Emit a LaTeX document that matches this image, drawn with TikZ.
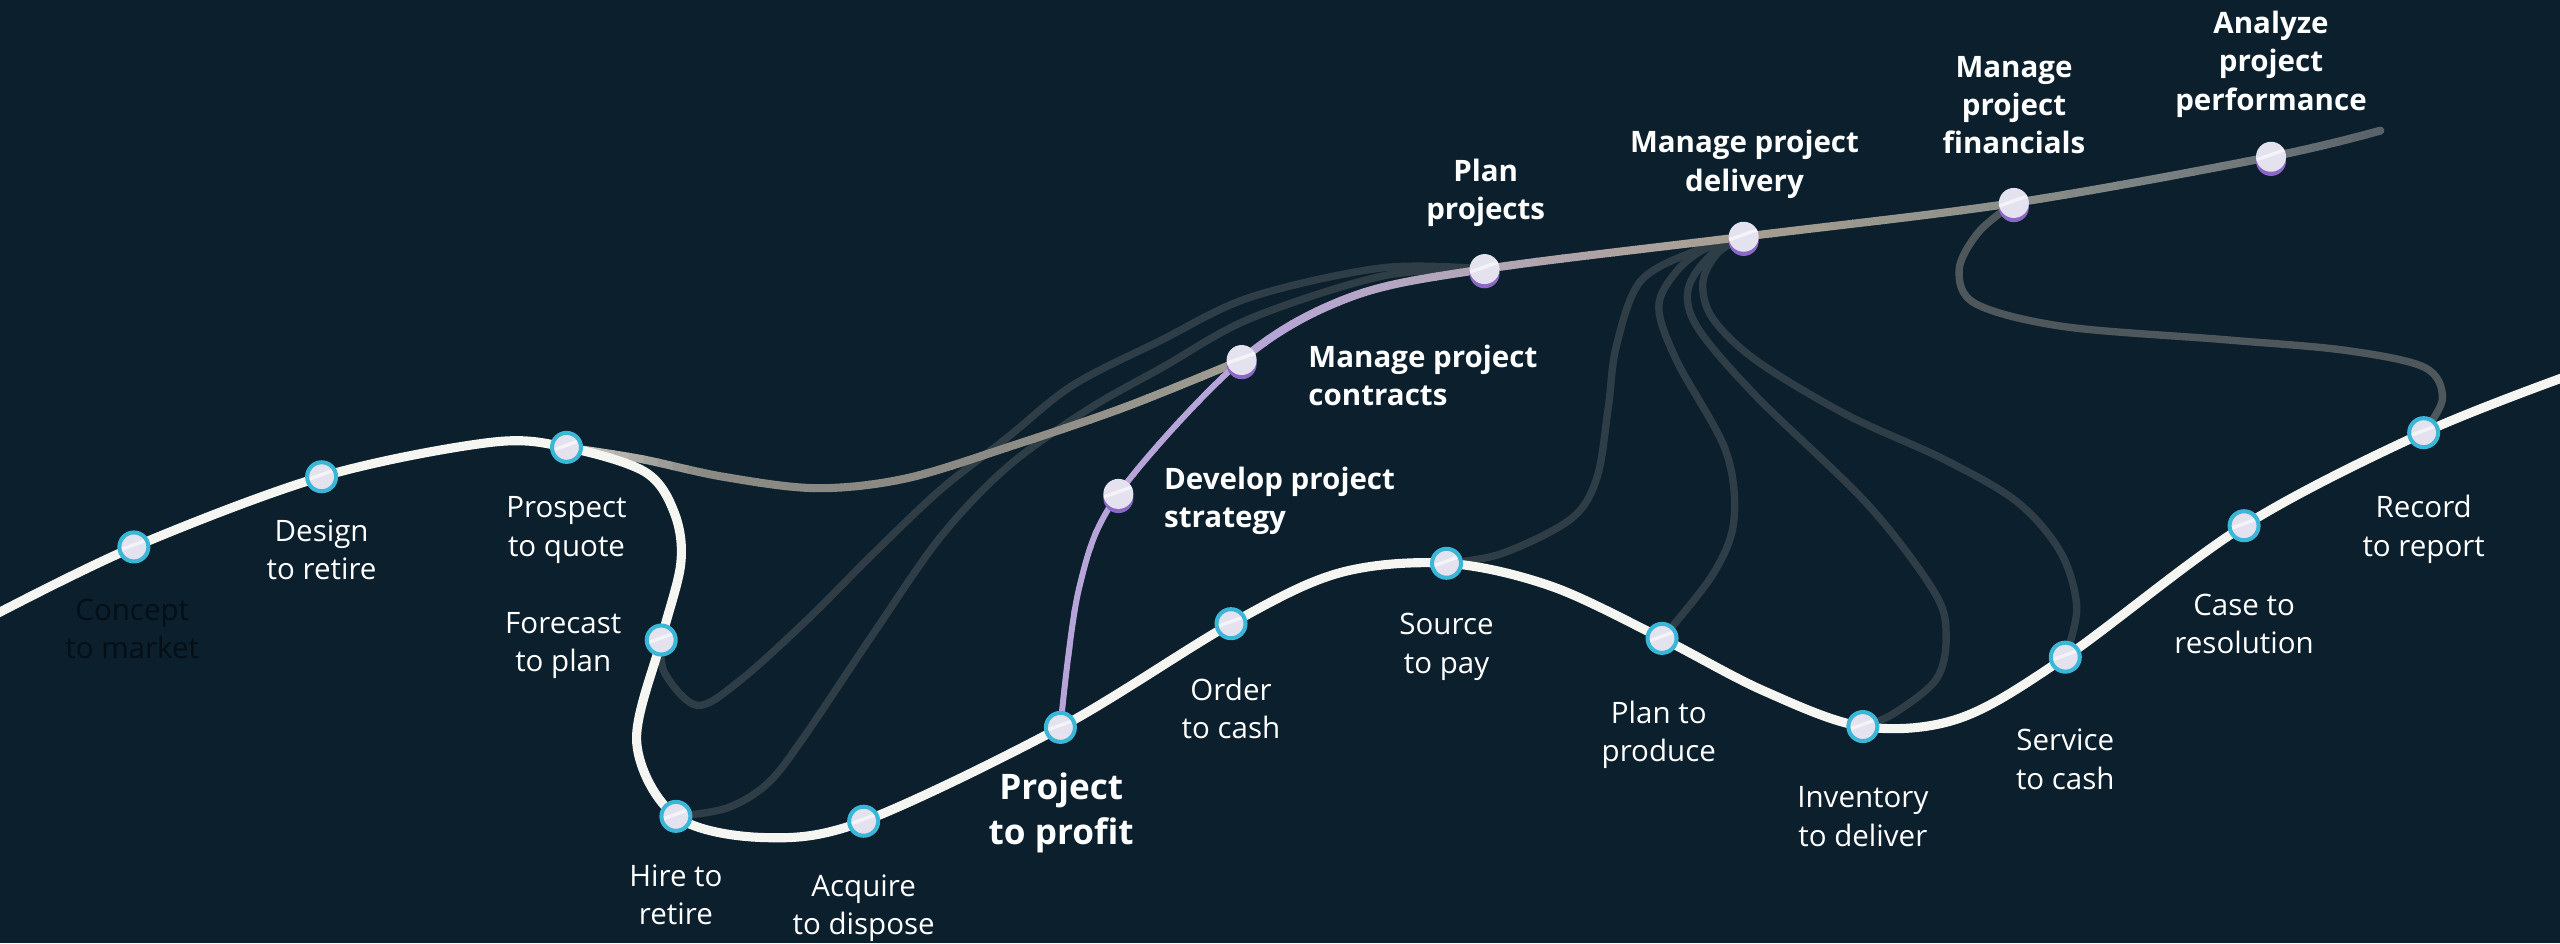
\documentclass[tikz,border=0pt]{standalone}
\usepackage{fontspec}
\setmainfont{Open Sans}
\usetikzlibrary{shadows}
\definecolor{bg}{HTML}{0B1F2D}
\definecolor{wline}{HTML}{F5F5F2}
\definecolor{dline}{HTML}{2F3E46}
\definecolor{gline}{HTML}{4E585C}
\definecolor{cyanring}{HTML}{3AB6D7}
\definecolor{mfill}{HTML}{E4E2EF}
\definecolor{prim}{HTML}{8C68C6}
\definecolor{darktext}{HTML}{050F16}
\definecolor{lav}{HTML}{B7A5DA}
\definecolor{tA}{HTML}{B3A6B4}
\definecolor{tB}{HTML}{A69F90}
\definecolor{tC}{HTML}{8B8F8B}
\definecolor{tD}{HTML}{6C7578}
\definecolor{tE}{HTML}{525D64}
\definecolor{pA}{HTML}{D6D5D0}
\definecolor{pB}{HTML}{8A8983}
\definecolor{pC}{HTML}{A19E93}
\pgfdeclarelayer{bglayer}
\pgfdeclarelayer{lines}
\pgfsetlayers{bglayer,lines,main}
\begin{document}
\begin{tikzpicture}[x=0.016327cm, y=-0.016327cm,
  shine/.style={path picture={
    \fill[white, opacity=0.6] ([yshift=-1.4pt]path picture bounding box.west) -- ([yshift=-0.4pt]path picture bounding box.west)
      -- ([yshift=2.6pt]path picture bounding box.east) -- ([yshift=1.6pt]path picture bounding box.east) -- cycle;}},
  bmark/.style={circle, draw=cyanring, line width=1.15pt, fill=mfill, minimum size=0.29cm, inner sep=0pt, shine},
  pmark/.style={circle, fill=mfill, minimum size=0.30cm, inner sep=0pt, shine,
    drop shadow={shadow xshift=0pt, shadow yshift=-1.2pt, fill=prim, opacity=1}},
  lbl/.style={text=white, align=center, font=\fontsize{8.4}{10.9}\selectfont, inner sep=0pt,
    execute at begin node=\strut, execute at end node=\strut},
  plbl/.style={lbl, font=\fontsize{8.4}{10.9}\selectfont\bfseries},
  conn/.style={line width=2.1pt, line cap=round, dline}]

\begin{pgfonlayer}{bglayer}
  \fill[bg] (0,0) rectangle (1568,577.6);
\end{pgfonlayer}
\useasboundingbox (0,0) rectangle (1568,577.6);

% ---- process markers (main line)
\node[bmark] (concept) at (82,335) {};
\node[bmark] (design) at (197,292) {};
\node[bmark] (prospect) at (347,274) {};
\node[bmark] (forecast) at (405,392) {};
\node[bmark] (hire) at (414,500) {};
\node[bmark] (acquire) at (529,503) {};
\node[bmark] (profit) at (649.5,445.5) {};
\node[bmark] (order) at (754,382) {};
\node[bmark] (source) at (886,345) {};
\node[bmark] (planprod) at (1018,391) {};
\node[bmark] (inventory) at (1141,445) {};
\node[bmark] (service) at (1265,402.5) {};
\node[bmark] (case) at (1374.5,322) {};
\node[bmark] (record) at (1484.5,265) {};
% ---- project markers
\node[pmark] (develop) at (685,302.5) {};
\node[pmark] (contracts) at (760.5,220.5) {};
\node[pmark] (planproj) at (909.3,164.8) {};
\node[pmark] (delivery) at (1068,145) {};
\node[pmark] (financials) at (1233.5,124.3) {};
\node[pmark] (analyze) at (1391,96) {};
\coordinate (mainL) at (-6,378);
\coordinate (mainR) at (1576,229);
\coordinate (topR) at (1458,80);

\begin{pgfonlayer}{lines}
  % dark connectors
  \draw[conn] plot[smooth, tension=0.55] coordinates {(forecast.center) (407,412) (427,432) (453,417) (494,380) (535,339) (576,300) (617,268) (657,236) (710,209) (766,182) (847,164) (planproj.center)};
  \draw[conn] plot[smooth, tension=0.55] coordinates {(hire.center) (445,495) (470,480) (492,452) (535,388) (576,329) (617,286) (666,251) (712,225) (766,195) (847,169) (planproj.center)};
  \draw[conn] plot[smooth, tension=0.55] coordinates {(source.center) (920,339) (962,318) (978,293) (985,250) (990,212) (1005,172) (1040,153) (delivery.center)};
  \draw[conn] plot[smooth, tension=0.55] coordinates {(planprod.center) (1049,352) (1062,319) (1057,276) (1027,221) (1016,188) (1027,166) (1045,152) (delivery.center)};
  \draw[conn] plot[smooth, tension=0.55] coordinates {(inventory.center) (1160,437) (1186,416) (1192,390) (1185,363) (1144,309) (1076,243) (1040,201) (1034,177) (1048,156) (delivery.center)};
  \draw[conn] plot[smooth, tension=0.55] coordinates {(service.center) (1272,372) (1262,338) (1235,307) (1190,281) (1131,254) (1076,221) (1049,195) (1043,173) (1052,155) (delivery.center)};
  \draw[conn, gline] plot[smooth, tension=0.55] coordinates {(financials.center) (1212,142) (1200,165) (1210,186) (1264,200) (1362,208) (1436,214.5) (1485,225) (1496,244) (record.center)};

  % prospect -> contracts (gradient)
  \path[save path=\prospectpath] plot[smooth, tension=0.55] coordinates {(prospect.center) (392,281) (443,292) (500,299) (555,293) (620,273) (690,249) (contracts.center)};
  \foreach \xa/\xb/\ca/\cb in {340/430/pA/pB, 430/600/pB/pB, 600/770/pB/pC}{
    \foreach \k in {0,...,9}{
      \pgfmathsetmacro\xl{\xa+(\xb-\xa)*\k/10}
      \pgfmathsetmacro\xr{\xa+(\xb-\xa)*(\k+1)/10+0.8}
      \pgfmathtruncatemacro\pc{95-\k*10}
      \begin{scope}
        \clip (\xl,-50) rectangle (\xr,650);
        \draw[line width=2.3pt, line cap=round, color=\ca!\pc!\cb, use path=\prospectpath];
      \end{scope}
    }
  }

  % project path (gradient)
  \path[save path=\toppath] plot[smooth, tension=0.55] coordinates {(profit.center) (661,360) (develop.center) (contracts.center) (827,182) (planproj.center) (delivery.center) (financials.center) (analyze.center) (topR)};
  \foreach \xa/\xb/\ca/\cb/\lw in {630/760.5/lav/lav/1.7pt, 760.5/909/lav/tA/2.3pt, 909/1068/tA/tB/2.3pt, 1068/1234/tB/tC/2.3pt, 1234/1391/tC/tD/2.3pt, 1391/1475/tD/tE/2.3pt}{
    \foreach \k in {0,...,9}{
      \pgfmathsetmacro\xl{\xa+(\xb-\xa)*\k/10}
      \pgfmathsetmacro\xr{\xa+(\xb-\xa)*(\k+1)/10+0.8}
      \pgfmathtruncatemacro\pc{95-\k*10}
      \begin{scope}
        \clip (\xl,-50) rectangle (\xr,650);
        \draw[line width=\lw, line cap=round, color=\ca!\pc!\cb, use path=\toppath];
      \end{scope}
    }
  }

  % main white process line
  \draw[wline, line width=2.6pt, line cap=round] plot[smooth, tension=0.55] coordinates {(mainL) (concept.center) (design.center) (300,271) (prospect.center) (395,289) (413,314) (417,345) (forecast.center) (390,455) (hire.center) (468,513) (acquire.center) (profit.center) (order.center) (820,351) (source.center) (950,359) (planprod.center) (1080,423) (inventory.center) (1200,440) (service.center) (case.center) (record.center) (mainR)};
\end{pgfonlayer}

% ---- labels
\node[lbl, text=darktext] (lconcept) at (81,388.5) {Concept\\to market};
\node[lbl] (ldesign) at (197,340) {Design\\to retire};
\node[lbl] (lprospect) at (347,326) {Prospect\\to quote};
\node[lbl] (lforecast) at (345,396.5) {Forecast\\to plan};
\node[lbl] (lhire) at (414,551.5) {Hire to\\retire};
\node[lbl] (lacquire) at (529,557.5) {Acquire\\to dispose};
\node[lbl, font=\fontsize{10}{12.8}\selectfont\bfseries] (lprofit) at (650,499.5) {Project\\to profit};
\node[lbl] (lorder) at (754,437.5) {Order\\to cash};
\node[lbl] (lsource) at (886,397.5) {Source\\to pay};
\node[lbl] (lplanprod) at (1016,451.5) {Plan to\\produce};
\node[lbl] (linventory) at (1141,503.5) {Inventory\\to deliver};
\node[lbl] (lservice) at (1265,468.5) {Service\\to cash};
\node[lbl] (lcase) at (1374.5,385.5) {Case to\\resolution};
\node[lbl] (lrecord) at (1484.5,325.5) {Record\\to report};
\node[plbl, align=left, anchor=west] (lcontracts) at (801,233.5) {Manage project\\contracts};
\node[plbl, align=left, anchor=west] (ldevelop) at (712.6,308.2) {Develop project\\strategy};
\node[plbl] (lplanproj) at (910,119.5) {Plan\\projects};
\node[plbl] (ldelivery) at (1068.5,102) {Manage project\\delivery};
\node[plbl] (lfinancials) at (1233.6,67.8) {Manage\\project\\financials};
\node[plbl] (lanalyze) at (1391,40.7) {Analyze\\project\\performance};
\end{tikzpicture}
\end{document}
